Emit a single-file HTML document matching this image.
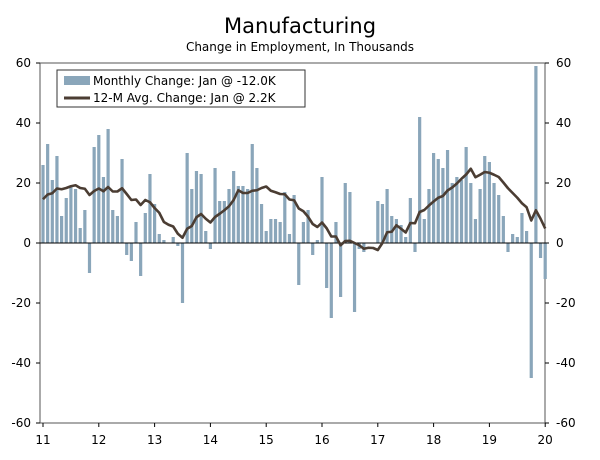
<!DOCTYPE html>
<html><head><meta charset="utf-8"><style>
body{margin:0;background:#fff;font-family:"Liberation Sans",sans-serif}
svg text{font-family:"DejaVu Sans","Liberation Sans",sans-serif}
</style></head><body>
<svg id="c" width="600" height="455">
<text x="300" y="33" text-anchor="middle" font-size="21">Manufacturing</text>
<text x="300" y="51" text-anchor="middle" font-size="12">Change in Employment, In Thousands</text>
<g id="g"></g>
</svg>
<script>
const years=["11","12","13","14","15","16","17","18","19","20"];
const prior2010=[12,14,16,10,12,10,12,14,16,14,15,16];
const monthly=[
26,33,21,29,9,15,19,18,5,11,-10,32,
36,22,38,11,9,28,-4,-6,7,-11,10,23,
13,3,1,0,2,-1,-20,30,18,24,23,4,
-2,25,14,14,18,24,19,19,18,33,25,13,
4,8,8,7,17,3,16,-14,7,11,-4,1,
22,-15,-25,7,-18,20,17,-23,-2,-3,0,0,
14,13,18,9,8,6,2,15,-3,42,8,18,
30,28,25,31,20,22,21,32,20,8,18,29,
27,20,16,9,-3,3,2,10,4,-45,59,-5,
-12];
const yTicks=[60,40,20,0,-20,-40,-60];
const NS="http://www.w3.org/2000/svg";
const g=document.getElementById('g');
const X0=43,YW=55.8,x=i=>X0+i*YW/12,y=v=>243-v*3;
function mk(t,a){const e=document.createElementNS(NS,t);for(const k in a)e.setAttribute(k,a[k]);g.appendChild(e);return e;}
let e=mk('rect',{x:40,y:63,width:505,height:360,fill:'none',stroke:'#555','stroke-width':1});

monthly.forEach((v,i)=>{const b=mk('rect',{x:x(i)-1.6,y:Math.min(y(v),y(0)),width:3.2,height:Math.abs(y(v)-y(0)),fill:'#8aa6ba'});
});
e=mk('line',{x1:40,x2:545,y1:y(0),y2:y(0),stroke:'#000','stroke-width':1});

const all=prior2010.concat(monthly);let pts=[];
monthly.forEach((v,i)=>{let s=0;for(let k=i+1;k<=i+12;k++)s+=all[k];pts.push(x(i)+','+y(s/12));});
e=mk('polyline',{points:pts.join(' '),fill:'none',stroke:'#4b3d33','stroke-width':2.6,'stroke-linejoin':'round'});

yTicks.forEach(t=>{
 let a=mk('line',{x1:36,x2:40,y1:y(t),y2:y(t),stroke:'#000'});
 a=mk('line',{x1:545,x2:549,y1:y(t),y2:y(t),stroke:'#000'});
 let l=mk('text',{x:31,y:y(t)+4,'text-anchor':'end','font-size':12});l.textContent=t;
 l=mk('text',{x:556,y:y(t)+4,'font-size':12});l.textContent=t;
});
years.forEach((yr,i)=>{const xx=X0+i*YW;
 let a=mk('line',{x1:xx,x2:xx,y1:423,y2:427,stroke:'#000'});
 let l=mk('text',{x:xx,y:444,'text-anchor':'middle','font-size':12});l.textContent=yr;});
e=mk('rect',{x:57,y:70,width:248,height:37,fill:'#fff',stroke:'#333'});
e=mk('rect',{x:64,y:76,width:26,height:9,fill:'#8aa6ba'});
e=mk('text',{x:93,y:85,'font-size':12});e.textContent='Monthly Change: Jan @ -12.0K';
e=mk('line',{x1:64,x2:90,y1:98,y2:98,stroke:'#4b3d33','stroke-width':3});
e=mk('text',{x:93,y:102,'font-size':12});e.textContent='12-M Avg. Change: Jan @ 2.2K';
</script>
</body></html>
